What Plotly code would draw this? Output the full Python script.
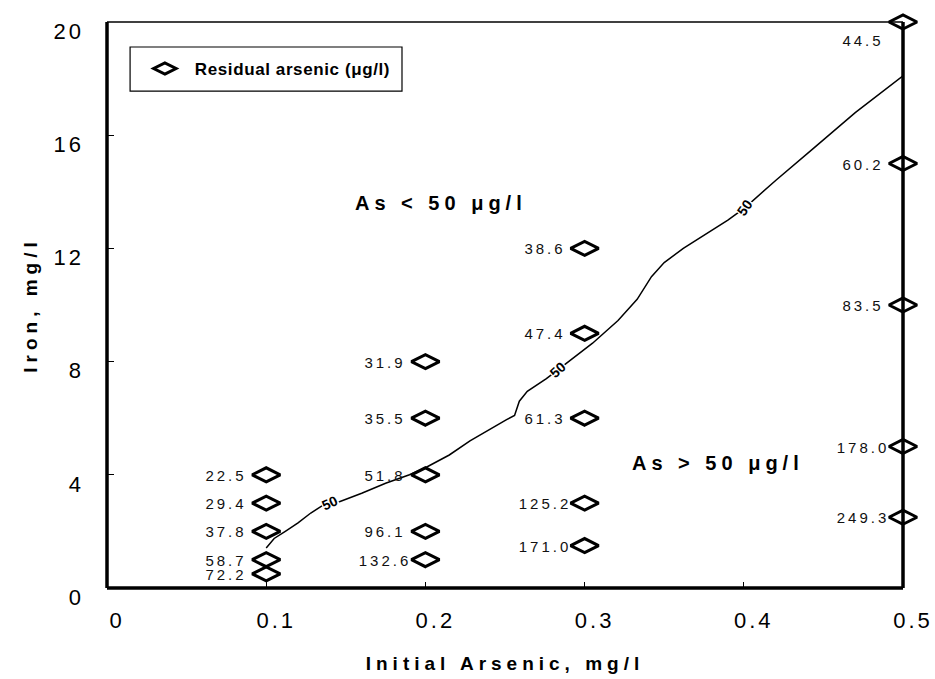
import plotly.graph_objects as go

# Jar-test results: initial arsenic vs. iron dose, labelled with residual arsenic
initial_as = [0.1, 0.1, 0.1, 0.1, 0.1,
              0.2, 0.2, 0.2, 0.2, 0.2,
              0.3, 0.3, 0.3, 0.3, 0.3,
              0.5, 0.5, 0.5, 0.5, 0.5]
iron_dose = [4, 3, 2, 1, 0.5,
             8, 6, 4, 2, 1,
             12, 9, 6, 3, 1.5,
             20, 15, 10, 5, 2.5]
residual_as = [22.5, 29.4, 37.8, 58.7, 72.2,
               31.9, 35.5, 51.8, 96.1, 132.6,
               38.6, 47.4, 61.3, 125.2, 171.0,
               44.5, 60.2, 83.5, 178.0, 249.3]

# 50 ug/l iso-line
contour_x = [0.100, 0.105, 0.112, 0.120, 0.128, 0.135, 0.146, 0.160, 0.175,
             0.190, 0.200, 0.215, 0.228, 0.240, 0.251, 0.256, 0.259, 0.264,
             0.276, 0.283, 0.291, 0.305, 0.321, 0.333, 0.342, 0.350, 0.362,
             0.372, 0.390, 0.401, 0.420, 0.443, 0.470, 0.500]
contour_y = [1.41, 1.75, 2.0, 2.3, 2.65, 2.9, 3.05, 3.35, 3.7,
             4.0, 4.25, 4.7, 5.2, 5.6, 5.95, 6.1, 6.6, 6.95,
             7.4, 7.7, 8.05, 8.65, 9.45, 10.2, 11.0, 11.5, 12.0,
             12.35, 13.0, 13.45, 14.4, 15.5, 16.8, 18.1]
contour_label_x = [0.140, 0.283, 0.401]
contour_label_y = [3.0, 7.7, 13.45]
contour_level = "50"

x_ticks = [0, 0.1, 0.2, 0.3, 0.4, 0.5]
x_tick_text = ["0", "0.1", "0.2", "0.3", "0.4", "0.5"]
y_ticks = [0, 4, 8, 12, 16, 20]

FONT = "Liberation Sans, Arial, sans-serif"

# font sizes (each role gets its own size so tracking can be keyed on it)
SZ_VALUE, SZ_LEVEL, SZ_REGION, SZ_TICK, SZ_TITLE, SZ_LEGEND = 15, 14, 20, 22, 19, 17

fig = go.Figure()

fig.add_trace(go.Scatter(
    x=contour_x, y=contour_y, mode="lines",
    line=dict(color="black", width=1.5),
    showlegend=False, hoverinfo="skip",
))

fig.add_trace(go.Scatter(
    x=initial_as, y=iron_dose, mode="markers",
    name="Residual arsenic (\u03bcg/l)",
    marker=dict(symbol="diamond-wide-open", size=20,
                color="black", line=dict(color="black", width=3)),
    cliponaxis=False,
))

# value labels beside each point
for xv, yv, rv in zip(initial_as, iron_dose, residual_as):
    at_top = yv >= max(y_ticks)
    fig.add_annotation(
        x=xv, y=yv, text=f"{rv:.1f}", showarrow=False,
        xshift=-40, yshift=-18 if at_top else 0,
        width=62, height=14, borderpad=0,
        font=dict(family=FONT, size=SZ_VALUE, color="#111"),
    )

# contour level labels along the iso-line
angles = [-25, -42, -55]
for xv, yv, ang in zip(contour_label_x, contour_label_y, angles):
    fig.add_annotation(
        x=xv, y=yv, text=f"<b>{contour_level}</b>", showarrow=False,
        textangle=ang, bgcolor="white", borderpad=0,
        font=dict(family=FONT, size=SZ_LEVEL, color="black"),
    )

fig.add_annotation(x=0.21, y=13.6, text="<b>As < 50 \u03bcg/l</b>", showarrow=False,
                   font=dict(family=FONT, size=SZ_REGION, color="black"))
fig.add_annotation(x=0.384, y=4.42, text="<b>As > 50 \u03bcg/l</b>", showarrow=False,
                   font=dict(family=FONT, size=SZ_REGION, color="black"))

# plot frame: heavy left/bottom/right, light top
frame = dict(xref="x domain", yref="y domain", layer="above")
fig.add_shape(type="line", x0=0, x1=0, y0=0, y1=1, line=dict(color="black", width=3.5), **frame)
fig.add_shape(type="line", x0=0, x1=1, y0=0, y1=0, line=dict(color="black", width=3.5), **frame)
fig.add_shape(type="line", x0=1, x1=1, y0=0, y1=1, line=dict(color="black", width=3.5), **frame)
fig.add_shape(type="line", x0=0, x1=1, y0=1, y1=1, line=dict(color="black", width=1.5), **frame)

# legend box
fig.add_shape(type="rect", xref="paper", yref="paper",
              x0=0.029, x1=0.3706, y0=0.878, y1=0.9558,
              line=dict(color="black", width=1.2), fillcolor="rgba(0,0,0,0)")

fig.update_xaxes(
    range=[0, 0.5], tickvals=x_ticks, ticktext=x_tick_text,
    ticks="inside", ticklen=6, tickwidth=1, tickcolor="black",
    showgrid=False, zeroline=False, showline=False, automargin=False,
    ticklabelshift=10, ticklabelstandoff=17,
    tickfont=dict(family=FONT, size=SZ_TICK, color="black"),
    title=dict(text="<b>Initial Arsenic, mg/l</b>", standoff=24,
               font=dict(family=FONT, size=SZ_TITLE, color="black")),
)
fig.update_yaxes(
    range=[0, 20], tickvals=y_ticks,
    ticks="inside", ticklen=7, tickwidth=1, tickcolor="black",
    showgrid=False, zeroline=False, showline=False, automargin=False,
    ticklabelshift=9, ticklabelstandoff=22,
    tickfont=dict(family=FONT, size=SZ_TICK, color="black"),
    title=dict(text="<b>Iron, mg/l</b>", standoff=16,
               font=dict(family=FONT, size=SZ_TITLE, color="black")),
)

fig.update_layout(
    width=935, height=679,
    margin=dict(l=107, r=32, t=22, b=91, autoexpand=False),
    plot_bgcolor="white", paper_bgcolor="white",
    showlegend=True,
    legend=dict(x=0.035, y=0.917, xanchor="left", yanchor="middle",
                bgcolor="rgba(0,0,0,0)", borderwidth=0,
                font=dict(family=FONT, size=SZ_LEGEND, color="black", weight="bold"),
                itemwidth=50),
)

# wide character tracking, keyed on font size; legend box is drawn as a shape,
# so its scroll clip is dropped to leave room for the tracked text
tracking_js = """
var ls = {'%dpx': '3px', '%dpx': '0px', '%dpx': '5px', '%dpx': '3px', '%dpx': '5px', '%dpx': '0.6px'};
document.querySelectorAll('.main-svg text').forEach(function (t) {
  var fs = t.style.fontSize;
  if (ls[fs]) { t.style.letterSpacing = ls[fs]; }
});
document.querySelectorAll('.legend .scrollbox').forEach(function (g) {
  g.removeAttribute('clip-path');
});
""" % (SZ_VALUE, SZ_LEVEL, SZ_REGION, SZ_TICK, SZ_TITLE, SZ_LEGEND)

fig.write_html("out.html", post_script=tracking_js)
